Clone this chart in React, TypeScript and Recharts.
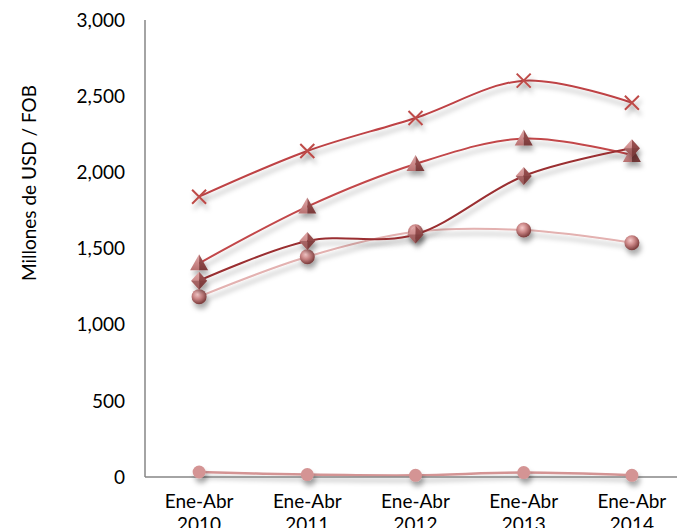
import React from 'react';
import { LineChart, Line, XAxis, YAxis } from 'recharts';

const categories = ['2010', '2011', '2012', '2013', '2014'];
const catPrefix = 'Ene-Abr';
const seriesCross = [1840, 2140, 2357, 2602, 2457];
const seriesTriangle = [1403, 1775, 2055, 2222, 2114];
const seriesDiamond = [1289, 1549, 1592, 1976, 2158];
const seriesSphere = [1184, 1446, 1610, 1621, 1538];
const seriesLow = [33, 16, 11, 29, 11];
const yTicks = [0, 500, 1000, 1500, 2000, 2500, 3000];
const yTitle = 'Millones de USD / FOB';

const data = categories.map((c, i) => ({
  cat: c,
  cross: seriesCross[i],
  tri: seriesTriangle[i],
  dia: seriesDiamond[i],
  sph: seriesSphere[i],
  low: seriesLow[i],
}));

const FONT = 'Lato, "Open Sans", sans-serif';

// Catmull-Rom style smoothing (similar to Excel smoothed lines)
const smooth: any = (context: any) => {
  const k = 1 / 6;
  let x0 = NaN, y0 = NaN, x1 = NaN, y1 = NaN, x2 = NaN, y2 = NaN;
  let pt = 0;
  let line: number = NaN;
  const bez = (x: number, y: number) =>
    context.bezierCurveTo(
      x1 + k * (x2 - x0),
      y1 + k * (y2 - y0),
      x2 + k * (x1 - x),
      y2 + k * (y1 - y),
      x2,
      y2
    );
  return {
    areaStart() { line = 0; },
    areaEnd() { line = NaN; },
    lineStart() { x0 = x1 = x2 = y0 = y1 = y2 = NaN; pt = 0; },
    lineEnd() {
      if (pt === 2) context.lineTo(x2, y2);
      else if (pt === 3) bez(x1, y1);
      if (line || (line !== 0 && pt === 1)) context.closePath();
      line = 1 - line;
    },
    point(x: number, y: number) {
      x = +x; y = +y;
      switch (pt) {
        case 0: pt = 1; if (line) context.lineTo(x, y); else context.moveTo(x, y); break;
        case 1: pt = 2; x1 = x; y1 = y; break;
        case 2: pt = 3; bez(x, y); break;
        default: bez(x, y); break;
      }
      x0 = x1; x1 = x2; x2 = x;
      y0 = y1; y1 = y2; y2 = y;
    },
  };
};

const CrossDot = (props: any) => {
  const { cx, cy, index } = props;
  const s = 7;
  return (
    <g key={`c${index}`} filter="url(#shadow)">
      <path d={`M${cx - s},${cy - s}L${cx + s},${cy + s}M${cx - s},${cy + s}L${cx + s},${cy - s}`} stroke="#BE4B48" strokeWidth={2} fill="none" />
    </g>
  );
};

const TriDot = (props: any) => {
  const { cx, cy, index } = props;
  return (
    <g key={`t${index}`} filter="url(#shadow)">
      <polygon points={`${cx},${cy - 9} ${cx - 9},${cy + 7} ${cx},${cy + 7}`} fill="url(#triL)" />
      <polygon points={`${cx},${cy - 9} ${cx},${cy + 7} ${cx + 9},${cy + 7}`} fill="url(#triR)" />
    </g>
  );
};

const DiaDot = (props: any) => {
  const { cx, cy, index } = props;
  return (
    <g key={`d${index}`} filter="url(#shadow)">
      <polygon points={`${cx},${cy - 9} ${cx - 8},${cy} ${cx},${cy + 9}`} fill="url(#triL)" />
      <polygon points={`${cx},${cy - 9} ${cx + 8},${cy} ${cx},${cy + 9}`} fill="url(#triR)" />
      <polygon points={`${cx - 8},${cy} ${cx},${cy + 9} ${cx + 8},${cy}`} fill="#7a3a3a" opacity={0.45} />
    </g>
  );
};

const SphDot = (props: any) => {
  const { cx, cy, index } = props;
  return (
    <g key={`s${index}`} filter="url(#shadow)">
      <circle cx={cx} cy={cy} r={7.5} fill="url(#sphere)" />
    </g>
  );
};

const LowDot = (props: any) => {
  const { cx, cy, index } = props;
  return (
    <g key={`l${index}`} filter="url(#shadow)">
      <circle cx={cx} cy={cy} r={6.5} fill="#D49494" />
    </g>
  );
};

const XTick = (props: any) => {
  const { x, y, payload } = props;
  return (
    <text x={x} y={y} textAnchor="middle" fontFamily={FONT} fontSize={19} fill="#000">
      <tspan x={x} dy={31}>{catPrefix}</tspan>
      <tspan x={x} dy={23}>{payload.value}</tspan>
    </text>
  );
};

const YTitle = () => (
  <text
    x={28}
    y={183}
    transform="rotate(-90 28 183)"
    textAnchor="middle"
    dominantBaseline="central"
    fontFamily={FONT}
    fontSize={19}
    fill="#000"
  >
    {yTitle}
  </text>
);

export default function App() {
  return (
    <div style={{ position: 'fixed', left: 0, top: 0, width: 677, height: 528, overflow: 'hidden', background: '#fff' }}>
      <LineChart width={700} height={540} data={data} margin={{ top: 20, right: 14, bottom: 0, left: 0 }}>
        <defs>
          <filter id="shadow" filterUnits="userSpaceOnUse" x={0} y={0} width={700} height={540}>
            <feDropShadow dx={2} dy={5} stdDeviation={2.5} floodColor="#000" floodOpacity={0.3} />
          </filter>
          <radialGradient id="sphere" cx="40%" cy="35%" r="70%">
            <stop offset="0%" stopColor="#F6CACA" />
            <stop offset="45%" stopColor="#C88383" />
            <stop offset="100%" stopColor="#6E3030" />
          </radialGradient>
          <linearGradient id="triL" x1="0" y1="0" x2="0" y2="1">
            <stop offset="0%" stopColor="#E2A8A8" />
            <stop offset="100%" stopColor="#B87070" />
          </linearGradient>
          <linearGradient id="triR" x1="0" y1="0" x2="0" y2="1">
            <stop offset="0%" stopColor="#A05555" />
            <stop offset="100%" stopColor="#7A3A3A" />
          </linearGradient>
        </defs>
        <XAxis
          dataKey="cat"
          scale="band"
          height={63}
          tickLine={false}
          tickSize={0}
          tickMargin={0}
          axisLine={{ stroke: '#868686', strokeWidth: 1.5 }}
          tick={<XTick />}
          interval={0}
        />
        <YAxis
          domain={[0, 3000]}
          ticks={yTicks}
          interval={0}
          width={145}
          tickLine={false}
          tickSize={0}
          tickMargin={20}
          axisLine={{ stroke: '#868686', strokeWidth: 1.5 }}
          tick={{ fontFamily: FONT, fontSize: 19, fill: '#000' }}
          tickFormatter={(v: number) => v.toLocaleString('en-US')}
          label={{ content: () => <YTitle /> }}
        />
        <Line dataKey="low" type={smooth} stroke="#D49494" strokeWidth={2.5} dot={LowDot} activeDot={false} isAnimationActive={false} filter="url(#shadow)" />
        <Line dataKey="sph" type={smooth} stroke="#E3B1B0" strokeWidth={2} dot={SphDot} activeDot={false} isAnimationActive={false} filter="url(#shadow)" />
        <Line dataKey="tri" type={smooth} stroke="#C2474A" strokeWidth={2} dot={TriDot} activeDot={false} isAnimationActive={false} filter="url(#shadow)" />
        <Line dataKey="dia" type={smooth} stroke="#9A2F30" strokeWidth={2} dot={DiaDot} activeDot={false} isAnimationActive={false} filter="url(#shadow)" />
        <Line dataKey="cross" type={smooth} stroke="#BE4245" strokeWidth={2} dot={CrossDot} activeDot={false} isAnimationActive={false} filter="url(#shadow)" />
      </LineChart>
    </div>
  );
}
